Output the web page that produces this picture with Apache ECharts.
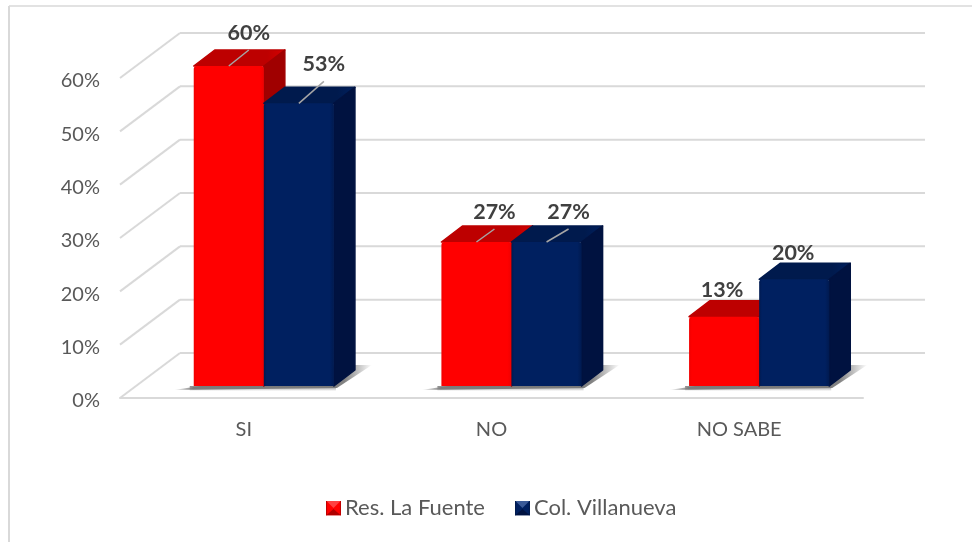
<!DOCTYPE html>
<html><head><meta charset="utf-8">
<style>html,body{margin:0;padding:0;background:#fff}#c{width:972px;height:542px}</style>
<script src="https://cdn.jsdelivr.net/npm/echarts@6/dist/echarts.min.js"></script>
</head><body><div id="c"></div>
<script>
const categories = ['SI', 'NO', 'NO SABE'];
const resLaFuente = [60, 27, 13];
const colVillanueva = [53, 27, 20];
const yTicks = [0, 10, 20, 30, 40, 50, 60];

const FONT = 'Lato, "Open Sans", sans-serif';
const WALL = {dx: 60, dy: -45, extra: 2};
const BAR = {ox: 20, oy: -12, dx: 21, dy: -16, frac: 0.283};
const RED = {front: '#FF0000', edge: '#F00000', top: '#BD0000', top2: '#D60000', side: '#A00000'};
const BLUE = {front: '#002060', edge: '#001A50', top: '#001A4D', top2: '#00205F', side: '#001240'};
// hand placed label offsets relative to the bar's front-top centre, and whether a leader line is shown
const labelPlace = [
  [[20, -33, 1], [18, -30, 1], [-2, -27, 0]],
  [[25, -39, 1], [22, -30, 1], [-1, -26, 0]]
];

function barItem(style, sign) {
  return function (params, api) {
    const idx = api.value(0), v = api.value(1);
    const base = api.coord([idx, 0]), tip = api.coord([idx, v]);
    const w = api.size([1, 0])[0] * BAR.frac;
    const x0 = base[0] + BAR.ox + (sign < 0 ? -w : 0), x1 = x0 + w;
    const yb = base[1] + BAR.oy, yt = tip[1] + BAR.oy;
    const dx = BAR.dx, dy = BAR.dy;
    const topFill = new echarts.graphic.LinearGradient(0, 0, 1, 0, [{offset: 0, color: style.top}, {offset: 0.8, color: style.top}, {offset: 1, color: style.top2}]);
    const frontFill = new echarts.graphic.LinearGradient(0, 0, 1, 0, [{offset: 0, color: style.edge}, {offset: 0.04, color: style.front}, {offset: 0.94, color: style.front}, {offset: 1, color: style.edge}]);
    return {type: 'group', children: [
      {type: 'polygon', shape: {points: [[x0, yt], [x0 + dx, yt + dy], [x1 + dx, yt + dy], [x1, yt]]},
       style: {fill: topFill, stroke: style.top, lineWidth: 1.5, lineJoin: 'round'}},
      {type: 'polygon', shape: {points: [[x1, yt], [x1 + dx, yt + dy], [x1 + dx, yb + dy], [x1, yb]]},
       style: {fill: style.side, stroke: style.side, lineWidth: 1.5, lineJoin: 'round'}},
      {type: 'rect', shape: {x: x0, y: yt, width: w, height: yb - yt, r: [3, 3, 0, 0]}, style: {fill: frontFill}}
    ]};
  };
}

function shadowItem(params, api) {
  const idx = api.value(0);
  const base = api.coord([idx, 0]);
  const w = api.size([1, 0])[0] * BAR.frac;
  const x0 = base[0] + BAR.ox - w, x1 = base[0] + BAR.ox + w, yb = base[1] + BAR.oy;
  const fill = new echarts.graphic.LinearGradient(0, 0, 1, 0, [
    {offset: 0, color: 'rgba(130,130,130,0)'}, {offset: 0.1, color: 'rgba(130,130,130,1)'},
    {offset: 0.86, color: 'rgba(130,130,130,1)'}, {offset: 1, color: 'rgba(130,130,130,0)'}]);
  const band = new echarts.graphic.LinearGradient(0, 0, 0, 1, [
    {offset: 0, color: 'rgba(120,120,120,0.9)'}, {offset: 1, color: 'rgba(120,120,120,0)'}]);
  return {type: 'group', children: [
    {type: 'polygon', shape: {points: [[x0 - 20, yb + 4], [x1 + 3, yb + 2], [x1 + 38, yb - 21], [x1 + 4, yb - 21]]}, style: {fill: fill}},
    {type: 'rect', shape: {x: x0 - 4, y: yb, width: x1 - x0 + 6, height: 5}, style: {fill: band}}
  ]};
}

function wallItem(params, api) {
  const p = api.coord([0, api.value(0)]);
  const cs = params.coordSys;
  const x0 = cs.x, x1 = cs.x + cs.width;
  const st = {stroke: '#D9D9D9', lineWidth: 2, fill: 'none'};
  return {type: 'group', children: [
    {type: 'line', shape: {x1: x0, y1: p[1], x2: x0 + WALL.dx, y2: p[1] + WALL.dy}, style: st},
    {type: 'line', shape: {x1: x0 + WALL.dx, y1: p[1] + WALL.dy, x2: x1 + WALL.dx + WALL.extra, y2: p[1] + WALL.dy}, style: st}
  ]};
}

function labelItem(values, place, sign) {
  return function (params, api) {
    const idx = api.value(0), v = api.value(1);
    const base = api.coord([idx, 0]), tip = api.coord([idx, v]);
    const w = api.size([1, 0])[0] * BAR.frac;
    const cx = base[0] + BAR.ox + sign * w / 2, cy = tip[1] + BAR.oy;
    const pl = place[idx];
    const kids = [];
    if (pl[2]) kids.push({type: 'line', shape: {x1: cx, y1: cy, x2: cx + pl[0], y2: cy + pl[1] + 17},
      style: {stroke: '#A6A6A6', lineWidth: 1.5}});
    kids.push({type: 'text', x: cx + pl[0], y: cy + pl[1],
      style: {text: v + '%', fill: '#404040', font: 'bold 21.5px ' + FONT, align: 'center', verticalAlign: 'middle'}});
    return {type: 'group', children: kids};
  };
}

const pairs = a => a.map((v, i) => [i, v]);
const icon = (a, b, c, d) => 'image://data:image/svg+xml;utf8,' + encodeURIComponent(
  `<svg xmlns="http://www.w3.org/2000/svg" width="14" height="14"><rect width="14" height="14" fill="${a}"/><polygon points="0,0 14,0 7,7" fill="${b}"/><polygon points="0,14 14,14 7,8" fill="${c}"/><rect x="0" y="0" width="1" height="14" fill="${d}"/><rect x="13" y="0" width="1" height="14" fill="${d}"/></svg>`);

const chart = echarts.init(document.getElementById('c'), null, {renderer: 'canvas'});
chart.setOption({
  animation: false,
  backgroundColor: '#fff',
  graphic: [
    {type: 'line', shape: {x1: 9, y1: 6, x2: 972, y2: 6}, silent: true, z: -1, style: {stroke: '#D9D9D9', lineWidth: 1.5}},
    {type: 'line', shape: {x1: 9, y1: 6, x2: 9, y2: 542}, silent: true, z: -1, style: {stroke: '#D9D9D9', lineWidth: 2}}
  ],
  grid: {left: 120, right: 109, top: 78, bottom: 144},
  xAxis: {type: 'category', data: categories,
    axisLine: {lineStyle: {color: '#D9D9D9', width: 2}}, axisTick: {show: false},
    axisLabel: {color: '#595959', fontFamily: FONT, fontSize: 20, margin: 22}},
  yAxis: {type: 'value', min: 0, max: 60, interval: 10,
    axisLine: {show: false}, axisTick: {show: false}, splitLine: {show: false},
    axisLabel: {color: '#595959', fontFamily: FONT, fontSize: 20, formatter: '{value}%', margin: 20,
      verticalAlign: 'top', padding: [-7, 0, 0, 0]}},
  legend: {left: 321, top: 492, itemWidth: 15, itemHeight: 15, itemGap: 30,
    textStyle: {color: '#595959', fontFamily: FONT, fontSize: 22, padding: [0, 0, 0, -1]},
    data: [{name: 'Res. La Fuente', icon: icon('#FF0000', '#FF4040', '#B00000', '#C00000')},
           {name: 'Col. Villanueva', icon: icon('#002060', '#3A5A98', '#001240', '#001A4D')}]},
  series: [
    {type: 'custom', silent: true, z: 1, data: yTicks.map(t => [t]), renderItem: wallItem, encode: {y: 0}},
    {type: 'custom', silent: true, z: 2, data: pairs(resLaFuente), renderItem: shadowItem, encode: {x: 0, y: 1}},
    {name: 'Res. La Fuente', type: 'custom', z: 3, data: pairs(resLaFuente), itemStyle: {color: RED.front},
     renderItem: barItem(RED, -1), encode: {x: 0, y: 1}},
    {name: 'Col. Villanueva', type: 'custom', z: 4, data: pairs(colVillanueva), itemStyle: {color: BLUE.front},
     renderItem: barItem(BLUE, 1), encode: {x: 0, y: 1}},
    {type: 'custom', silent: true, z: 5, data: pairs(resLaFuente), renderItem: labelItem(resLaFuente, labelPlace[0], -1), encode: {x: 0, y: 1}},
    {type: 'custom', silent: true, z: 5, data: pairs(colVillanueva), renderItem: labelItem(colVillanueva, labelPlace[1], 1), encode: {x: 0, y: 1}}
  ]
});
</script></body></html>
